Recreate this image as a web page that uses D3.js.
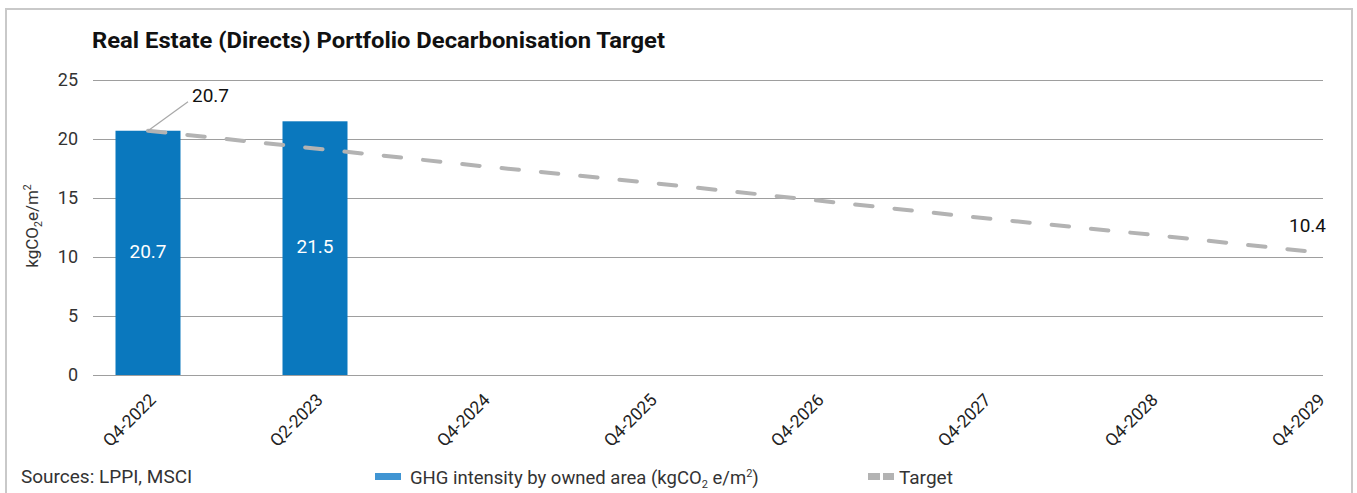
<!DOCTYPE html>
<html>
<head>
<meta charset="utf-8">
<script src="https://cdn.jsdelivr.net/npm/d3@7"></script>
<style>
  html, body { margin: 0; padding: 0; background: #fff; }
  svg { display: block; font-family: Roboto, "Noto Sans", sans-serif; }
</style>
</head>
<body>
<svg id="chart" width="1357" height="493"></svg>
<script>
// ---- data ----
const categories = ["Q4-2022", "Q2-2023", "Q4-2024", "Q4-2025", "Q4-2026", "Q4-2027", "Q4-2028", "Q4-2029"];
const barCategories = ["Q4-2022", "Q2-2023"];
const intensity = [20.7, 21.5];
const target = [20.7, 19.2, 17.7, 16.3, 14.8, 13.3, 11.9, 10.4];
const yTicks = [0, 5, 10, 15, 20, 25];
const title = "Real Estate (Directs) Portfolio Decarbonisation Target";
const sourceText = "Sources: LPPI, MSCI";

// ---- layout ----
const svg = d3.select("#chart");
const gridLeft = 93, gridRight = 1323;
const yTop = 80, yBottom = 375;

const x = d3.scaleBand().domain(categories).range([64.5, 1400.5])
  .paddingInner(1 - 65 / 167).paddingOuter((1 - 65 / 167) / 2);
const xc = d => x(d) + x.bandwidth() / 2;
const y = d3.scaleLinear().domain([0, 25]).range([yBottom, yTop]);

// frame
svg.append("rect").attr("x", 6).attr("y", 9).attr("width", 1346).attr("height", 520)
  .attr("fill", "none").attr("stroke", "#c9c9c9").attr("stroke-width", 2);

// title
svg.append("text").attr("x", 92).attr("y", 48)
  .attr("font-size", 21.5).attr("font-weight", 700).attr("fill", "#111")
  .attr("textLength", 573).attr("lengthAdjust", "spacingAndGlyphs")
  .text(title);

// y axis + gridlines
const yAxis = d3.axisLeft(y).tickValues(yTicks).tickSize(-(gridRight - gridLeft)).tickPadding(15);
const gy = svg.append("g").attr("transform", `translate(${gridLeft},0)`).call(yAxis);
gy.select(".domain").remove();
gy.selectAll(".tick line").attr("stroke", "#9e9e9e").attr("stroke-width", 1);
gy.selectAll(".tick text").attr("font-size", 18).attr("fill", "#333").attr("font-family", "Roboto");

// y axis title
const yt = svg.append("text").attr("transform", `translate(38,226) rotate(-90)`)
  .attr("text-anchor", "middle").attr("font-size", 17).attr("fill", "#333");
yt.append("tspan").text("kgCO");
yt.append("tspan").attr("font-size", 10.5).attr("dy", 4).text("2");
yt.append("tspan").attr("dy", -4).text("e/m");
yt.append("tspan").attr("font-size", 10.5).attr("dy", -7).text("2");

// bars
svg.append("g").selectAll("rect").data(barCategories).join("rect")
  .attr("x", d => x(d)).attr("width", x.bandwidth())
  .attr("y", (d, i) => y(intensity[i]))
  .attr("height", (d, i) => y(0) - y(intensity[i]))
  .attr("fill", "#0a78be");

// bar labels
svg.append("g").selectAll("text").data(barCategories).join("text")
  .attr("x", d => xc(d))
  .attr("y", (d, i) => (y(intensity[i]) + y(0)) / 2)
  .attr("dominant-baseline", "middle").attr("text-anchor", "middle")
  .attr("font-size", 19).attr("fill", "#fff")
  .text((d, i) => intensity[i].toFixed(1));

// target line
const line = d3.line().x((d, i) => xc(categories[i])).y(d => y(d));
svg.append("path").datum(target).attr("d", line)
  .attr("fill", "none").attr("stroke", "#b3b3b3").attr("stroke-width", 4)
  .attr("stroke-linecap", "round").attr("stroke-dasharray", "17.5 22");

// target labels
const x0 = xc(categories[0]), y0 = y(target[0]);
svg.append("line").attr("x1", x0).attr("y1", y0).attr("x2", x0 + 40).attr("y2", y0 - 29)
  .attr("stroke", "#a8a8a8").attr("stroke-width", 1.2);
svg.append("text").attr("x", x0 + 44).attr("y", y0 - 29)
  .attr("font-size", 19).attr("fill", "#111").text(target[0].toFixed(1));
const xn = xc(categories[categories.length - 1]), yn = y(target[target.length - 1]);
svg.append("text").attr("x", xn + 9).attr("y", yn - 20).attr("text-anchor", "end")
  .attr("font-size", 19).attr("fill", "#111").text(target[target.length - 1].toFixed(1));

// x axis labels
const xAxis = d3.axisBottom(x).tickSize(0).tickPadding(0);
const gx = svg.append("g").attr("transform", `translate(0,${yBottom})`).call(xAxis);
gx.select(".domain").remove();
gx.selectAll(".tick text")
  .attr("font-size", 17.5).attr("fill", "#222").attr("font-family", "Roboto")
  .attr("text-anchor", "end").attr("dy", null).attr("y", 0)
  .attr("transform", "translate(9,26) rotate(-45)");

// footer
svg.append("text").attr("x", 21).attr("y", 483).attr("font-size", 19).attr("fill", "#333").text(sourceText);

// legend
svg.append("rect").attr("x", 375).attr("y", 473).attr("width", 26).attr("height", 7).attr("fill", "#4095d3");
const lt = svg.append("text").attr("x", 410).attr("y", 484).attr("font-size", 18.5).attr("fill", "#333");
lt.append("tspan").text("GHG intensity by owned area (kgCO");
lt.append("tspan").attr("font-size", 11).attr("dy", 4).text("2");
lt.append("tspan").attr("dy", -4).text(" e/m");
lt.append("tspan").attr("font-size", 11).attr("dy", -7).text("2");
lt.append("tspan").attr("dy", 7).text(")");

svg.append("rect").attr("x", 868).attr("y", 473).attr("width", 12).attr("height", 7).attr("fill", "#b3b3b3");
svg.append("rect").attr("x", 883).attr("y", 473).attr("width", 11).attr("height", 7).attr("fill", "#b3b3b3");
svg.append("text").attr("x", 899).attr("y", 484).attr("font-size", 19).attr("fill", "#333").text("Target");
</script>
</body>
</html>
